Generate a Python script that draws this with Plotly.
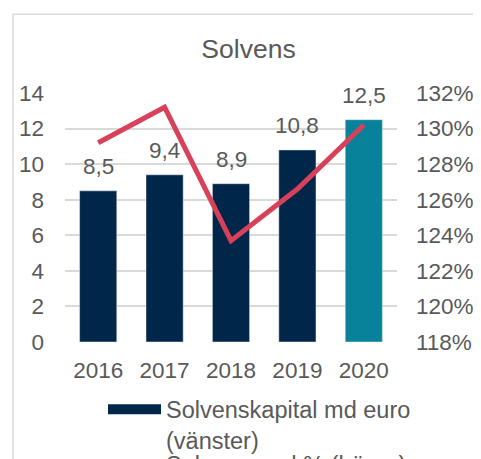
import plotly.graph_objects as go

# Daten
years = ["2016", "2017", "2018", "2019", "2020"]
kapital = [8.5, 9.4, 8.9, 10.8, 12.5]
kapital_labels = ["8,5", "9,4", "8,9", "10,8", "12,5"]
solvensgrad = [1.292, 1.312, 1.237, 1.266, 1.302]
bar_colors = ["#00264a", "#00264a", "#00264a", "#00264a", "#08829b"]

grey = "#595959"
font = "Liberation Sans, Arial, sans-serif"

# Seite hat 8px body-margin -> alles um 8px verschoben
OFF = 8
W, H = 481, 459
# Plotbereich in Referenz-Pixeln
L, R, T, B = 65, 397, 93, 342.5
def px(x):
    return (x - L) / (R - L)
def py(y):
    return (B - y) / (B - T)

fig = go.Figure()
fig.add_trace(go.Bar(x=years, y=kapital, marker=dict(color=bar_colors), showlegend=False,
                     hoverinfo="skip"))
# Legenden-Symbol fuer die Balken
fig.add_trace(go.Scatter(x=[None], y=[None], mode="lines", line=dict(color="#00264a", width=12),
                         name="Solvenskapital md euro<br>(vänster)"))
fig.add_trace(go.Scatter(x=years, y=solvensgrad, mode="lines", line=dict(color="#d9405a", width=5),
                         name="Solvensgrad % (höger)", yaxis="y2", legend="legend2"))

# Datenbeschriftungen (x = Kategorie-Index)
for i, (v, t) in enumerate(zip(kapital, kapital_labels)):
    fig.add_annotation(x=i, y=v, xref="x", yref="y", text=t, showarrow=False,
                       yanchor="middle", yshift=24,
                       font=dict(size=22.5, color=grey, family=font))

# Rahmen aus dem Screenshot
fig.add_shape(type="rect", xref="paper", yref="paper", x0=px(13), x1=px(520), y0=py(14), y1=py(520),
              line=dict(color="#d9d9d9", width=1.5), layer="below")

leg_style = dict(xanchor="left", yanchor="top", valign="top", itemwidth=53,
                 font=dict(size=23.5, color=grey, family=font), bgcolor="rgba(0,0,0,0)")

fig.update_layout(
    width=W, height=H,
    margin=dict(l=L - OFF, r=W - (R - OFF), t=T - OFF, b=H - (B - OFF), autoexpand=False),
    paper_bgcolor="white", plot_bgcolor="white",
    font=dict(family=font, color=grey, size=22.5),
    title=dict(text="Solvens", x=(248.5 - OFF) / W, xref="container", xanchor="center",
               y=1 - (49 - OFF) / H, yref="container", yanchor="middle",
               font=dict(size=26.5, color=grey, family=font)),
    bargap=0.44,
    xaxis=dict(type="category", range=[-0.5, 4.5], showgrid=False, showline=False, ticks="",
               ticklabelstandoff=12, tickfont=dict(size=22.5, color=grey)),
    yaxis=dict(range=[0, 14], dtick=2, showgrid=True, gridcolor="#d9d9d9", gridwidth=1.5,
               zeroline=False, showline=False, ticks="", ticklabelstandoff=20,
               tickfont=dict(size=22.5, color=grey)),
    yaxis2=dict(range=[1.18, 1.32], dtick=0.02, tickformat=".0%", overlaying="y", side="right",
                showgrid=False, zeroline=False, showline=False, ticks="", ticklabelstandoff=18,
                tickfont=dict(size=22.5, color=grey)),
    legend=dict(x=px(103), y=py(388), **leg_style),
    legend2=dict(x=px(103), y=py(442.5), **leg_style),
    showlegend=True,
)

fig.write_html("out.html")
